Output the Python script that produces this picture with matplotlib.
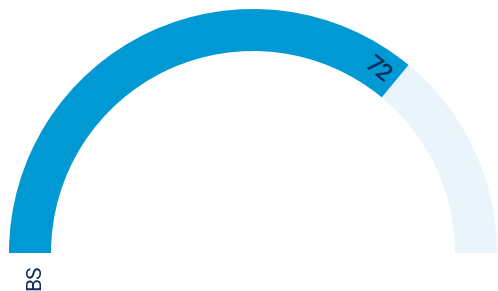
import numpy as np
from matplotlib import pyplot as plt
from matplotlib.patches import Wedge

# gauge data
category = "BS"
value = 72
max_value = 100

arc_color = "#0099d4"
track_color = "#eaf5fb"
text_color = "#0d2b55"

fig = plt.figure(figsize=(4.98, 2.91), dpi=100)
ax = fig.add_axes([0, 0, 1, 1])
ax.set_xlim(-253, 245)
ax.set_ylim(-38, 253)
ax.set_aspect("equal")
ax.axis("off")

r_outer = 244
width = 42
end_angle = 180 - value / max_value * 180

ax.add_patch(Wedge((0, 0), r_outer, 0, 180, width=width, color=track_color, lw=0))
ax.add_patch(Wedge((0, 0), r_outer, end_angle, 180, width=width, color=arc_color, lw=0))

# value label sits inside the band, just before the end of the arc
label_angle = np.radians(end_angle + 5.5)
label_r = r_outer - width / 2 - 1
ax.text(label_r * np.cos(label_angle), label_r * np.sin(label_angle), str(value),
        rotation=end_angle - 90, ha="center", va="center",
        fontsize=17, color=text_color, family="Roboto", fontweight="medium",
        rotation_mode="anchor")

ax.text(-218, -24, category, rotation=90, ha="center", va="center",
        fontsize=15, color=text_color, family="Roboto")

fig.savefig("out.png", dpi=100)
plt.close(fig)
